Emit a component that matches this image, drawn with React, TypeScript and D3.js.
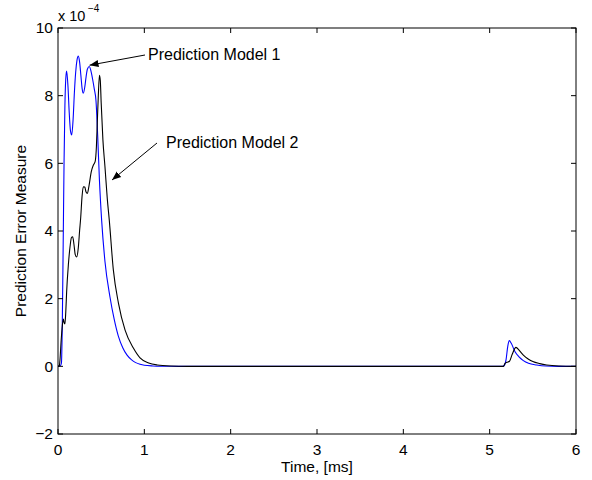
import React from "react";
import * as d3 from "d3";

const W = 592;
const H = 480;

const xTicks = [0, 1, 2, 3, 4, 5, 6];
const yTicks = [-2, 0, 2, 4, 6, 8, 10];
const yTickLabels = ["\u22122", "0", "2", "4", "6", "8", "10"];

// Prediction Model 1 (blue), values in units of 1e-4
const t1 = [0, 0.03, 0.04, 0.05, 0.06, 0.07, 0.08, 0.09, 0.1, 0.115, 0.13, 0.145, 0.159, 0.175, 0.19, 0.205, 0.22, 0.235, 0.25, 0.265, 0.28, 0.293, 0.31, 0.325, 0.34, 0.363, 0.38, 0.4, 0.42, 0.44, 0.46, 0.48, 0.506, 0.544, 0.602, 0.65, 0.698, 0.75, 0.8, 0.853, 0.9, 0.95, 1.0, 1.1, 1.2, 1.4, 5.15, 5.17, 5.19, 5.21, 5.228, 5.25, 5.294, 5.34, 5.39, 5.45, 5.545, 5.65, 5.8, 6.0];
const v1 = [0, 0.03, 0.1, 1.3, 3.6, 6.0, 7.7, 8.5, 8.73, 8.3, 7.5, 6.95, 6.84, 7.3, 8.1, 8.7, 9.05, 9.17, 9.0, 8.6, 8.2, 8.07, 8.25, 8.55, 8.78, 8.86, 8.75, 8.5, 8.2, 7.85, 6.8, 5.5, 4.3, 3.1, 2.05, 1.4, 0.9, 0.55, 0.33, 0.19, 0.11, 0.06, 0.03, 0.01, 0.003, 0, 0, 0.03, 0.2, 0.6, 0.76, 0.68, 0.43, 0.28, 0.17, 0.09, 0.04, 0.01, 0, 0];

// Prediction Model 2 (black)
const t2 = [0, 0.015, 0.023, 0.035, 0.05, 0.062, 0.07, 0.08, 0.09, 0.1, 0.12, 0.14, 0.155, 0.17, 0.185, 0.2, 0.216, 0.235, 0.25, 0.263, 0.278, 0.293, 0.31, 0.325, 0.34, 0.36, 0.385, 0.41, 0.43, 0.445, 0.455, 0.467, 0.48, 0.49, 0.5, 0.52, 0.544, 0.571, 0.594, 0.641, 0.7, 0.777, 0.873, 0.95, 1.05, 1.15, 1.3, 1.5, 5.16, 5.178, 5.2, 5.23, 5.26, 5.305, 5.34, 5.39, 5.45, 5.5, 5.58, 5.66, 5.8, 6.0];
const v2 = [0, 0.02, 0.19, 0.7, 1.2, 1.4, 1.3, 1.25, 1.6, 2.2, 3.0, 3.55, 3.8, 3.83, 3.6, 3.3, 3.23, 3.5, 4.0, 4.4, 5.0, 5.31, 5.3, 5.15, 5.11, 5.35, 5.75, 5.95, 6.05, 6.5, 7.2, 8.0, 8.6, 8.45, 7.8, 6.7, 5.9, 4.95, 4.32, 2.85, 1.87, 1.07, 0.54, 0.25, 0.1, 0.04, 0.01, 0, 0, 0.09, 0.12, 0.15, 0.35, 0.56, 0.48, 0.33, 0.21, 0.14, 0.08, 0.04, 0.01, 0];

const series = [
  { name: "Prediction Model 1", t: t1, v: v1, color: "#0000ff" },
  { name: "Prediction Model 2", t: t2, v: v2, color: "#000000" },
];

const FONT = "'Liberation Sans', Arial, Helvetica, sans-serif";

export default function App() {
  const left = 58, right = 576, top = 28, bottom = 434;
  const x = d3.scaleLinear().domain([0, 6]).range([left, right]);
  const y = d3.scaleLinear().domain([-2, 10]).range([bottom, top]);
  const line = d3
    .line<[number, number]>()
    .x((d) => x(d[0]))
    .y((d) => y(d[1]))
    .curve(d3.curveMonotoneX);
  const tl = 5;

  return (
    <svg
      width={W}
      height={H}
      style={{ position: "absolute", left: 0, top: 0, background: "#fff" }}
      fontFamily={FONT}
    >
      <rect x={0} y={0} width={W} height={H} fill="#fff" />
      {series.map((s) => (
        <path
          key={s.name}
          d={line(s.t.map((t, i) => [t, s.v[i]] as [number, number])) || ""}
          fill="none"
          stroke={s.color}
          strokeWidth={1.1}
        />
      ))}
      <rect x={left} y={top} width={right - left} height={bottom - top} fill="none" stroke="#000" strokeWidth={1} />
      {xTicks.map((t) => (
        <g key={"x" + t}>
          <line x1={x(t)} x2={x(t)} y1={bottom} y2={bottom - tl} stroke="#000" />
          <line x1={x(t)} x2={x(t)} y1={top} y2={top + tl} stroke="#000" />
          <text x={x(t)} y={455} fontSize={15.5} textAnchor="middle">
            {t}
          </text>
        </g>
      ))}
      {yTicks.map((t, i) => (
        <g key={"y" + t}>
          <line x1={left} x2={left + tl} y1={y(t)} y2={y(t)} stroke="#000" />
          <line x1={right} x2={right - tl} y1={y(t)} y2={y(t)} stroke="#000" />
          <text x={53} y={y(t)} dy="0.35em" fontSize={15.5} textAnchor="end">
            {yTickLabels[i]}
          </text>
        </g>
      ))}
      <text x={58} y={21} fontSize={14.5}>
        x 10
      </text>
      <text x={88} y={12} fontSize={10}>
        {"\u22124"}
      </text>
      <text x={(left + right) / 2} y={472} fontSize={15.5} textAnchor="middle">
        Time, [ms]
      </text>
      <text
        transform={`translate(26,${(top + bottom) / 2}) rotate(-90)`}
        fontSize={15.5}
        textAnchor="middle"
      >
        Prediction Error Measure
      </text>
      <defs>
        <marker id="ah" viewBox="0 0 10 10" refX={10} refY={5} markerWidth={9} markerHeight={9} orient="auto" markerUnits="userSpaceOnUse">
          <path d="M0,1 L10,5 L0,9 Z" fill="#000" />
        </marker>
      </defs>
      <line x1={145} y1={55} x2={x(0.365)} y2={y(8.9)} stroke="#000" strokeWidth={1} markerEnd="url(#ah)" />
      <text x={148} y={60} fontSize={16}>
        Prediction Model 1
      </text>
      <line x1={157} y1={143} x2={112} y2={180} stroke="#000" strokeWidth={1} markerEnd="url(#ah)" />
      <text x={166} y={148} fontSize={16}>
        Prediction Model 2
      </text>
    </svg>
  );
}
